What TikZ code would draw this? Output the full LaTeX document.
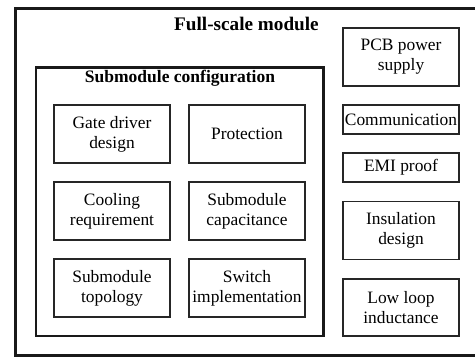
\documentclass[tikz,border=0pt]{standalone}
\usepackage{fontspec}
\setmainfont{Liberation Serif}
\begin{document}
\begin{tikzpicture}[x=1pt,y=-1pt,
  box/.style={draw=black!85,line width=1.6pt,rectangle,align=center,inner sep=0pt,
    font=\fontsize{17.4}{20}\selectfont},
  ttl/.style={font=\fontsize{17.5}{20}\selectfont\bfseries,inner sep=0pt}]
\useasboundingbox (0,0) rectangle (475,358);
\clip (0,0) rectangle (475,358);
% outer
\draw[black!90,line width=3.5pt] (15.5,8.5) rectangle (490,355.5);
\node[ttl,font=\fontsize{19.2}{22}\selectfont\bfseries] (full) at (246.5,24) {Full-scale module};
% inner
\draw[black!90,line width=2.2pt] (36,67.5) rectangle (323.5,336);
\node[ttl] (sub) at (180,78) {Submodule configuration};
% grid
\node[box,minimum width=116pt,minimum height=58pt] (gate) at (112,134) {Gate driver\\design};
\node[box,minimum width=116pt,minimum height=58pt] (prot) at (247,134) {Protection};
\node[box,minimum width=116pt,minimum height=58pt] (cool) at (112,211) {Cooling\\requirement};
\node[box,minimum width=116pt,minimum height=58pt] (cap) at (247,211) {Submodule\\capacitance};
\node[box,minimum width=116pt,minimum height=58pt] (topo) at (112,288) {Submodule\\topology};
\node[box,minimum width=116pt,minimum height=58pt] (sw) at (247,288) {Switch\\implementation};
% right column
\node[box,minimum width=116pt,minimum height=58pt] (pcb) at (401,57) {PCB power\\supply};
\node[box,minimum width=116pt,minimum height=29pt] (comm) at (401,119.5) {Communication};
\node[box,minimum width=116pt,minimum height=29pt] (emi) at (401,167.5) {EMI proof};
\node[box,minimum width=116pt,minimum height=58pt] (ins) at (401,230.5) {Insulation\\design};
\node[box,minimum width=116pt,minimum height=57pt] (low) at (401,307.5) {Low loop\\inductance};
\end{tikzpicture}
\end{document}
